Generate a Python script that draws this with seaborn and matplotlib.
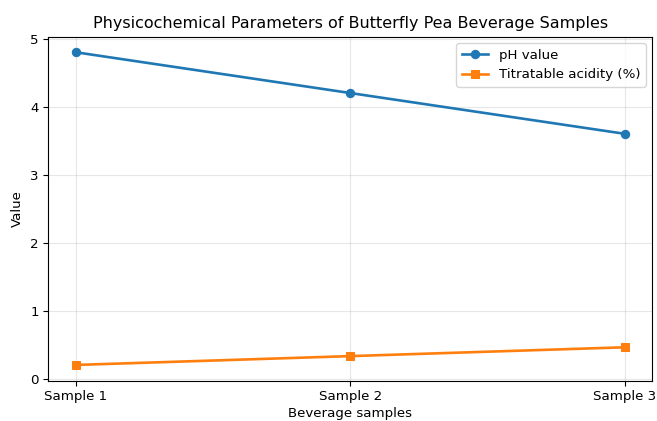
import matplotlib
matplotlib.use("Agg")
import matplotlib.pyplot as plt
import seaborn as sns
import pandas as pd

# chart values
samples = ["Sample 1", "Sample 2", "Sample 3"]
ph_values = [4.8, 4.2, 3.6]
acidity = [0.2, 0.33, 0.46]

df = pd.DataFrame({"sample": samples, "ph": ph_values, "acid": acidity})

plt.rcParams["font.size"] = 9.6

fig, ax = plt.subplots(figsize=(6.57, 4.21), dpi=100)
sns.lineplot(data=df, x="sample", y="ph", marker="o", markersize=6,
             linewidth=1.9, color="#1f77b4", markeredgecolor="#1f77b4",
             label="pH value", ax=ax)
sns.lineplot(data=df, x="sample", y="acid", marker="s", markersize=6,
             linewidth=1.9, color="#ff7f0e", markeredgecolor="#ff7f0e",
             label="Titratable acidity (%)", ax=ax)

ax.set_title("Physicochemical Parameters of Butterfly Pea Beverage Samples", fontsize=11.5)
ax.set_xlabel("Beverage samples", labelpad=3)
ax.set_ylabel("Value")
ax.grid(True, alpha=0.3)
ax.legend(loc="upper right")

fig.subplots_adjust(left=0.0735, right=0.993, top=0.913, bottom=0.096)
plt.savefig("out.png", dpi=100)
